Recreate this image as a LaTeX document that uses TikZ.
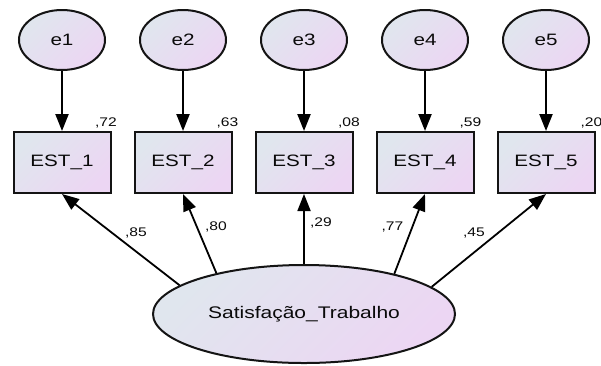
\documentclass[tikz,border=0pt]{standalone}
\usepackage{fontspec}
\setmainfont{Liberation Sans}
\newfontfamily\labfont[FakeStretch=1.25]{Liberation Sans}
\usetikzlibrary{arrows.meta,shapes.geometric}
\definecolor{fillA}{RGB}{224,230,238}
\definecolor{fillB}{RGB}{236,214,243}
\definecolor{edgec}{RGB}{20,20,20}
\definecolor{textc}{RGB}{10,10,10}
\tikzset{
  obs/.style={rectangle, draw=edgec, line width=2pt, minimum width=97pt, minimum height=61pt, inner sep=0pt,
    top color=fillA, bottom color=fillB, shading angle=45, font=\labfont\fontsize{16.5}{18}\selectfont, text=textc},
  err/.style={ellipse, draw=edgec, line width=2pt, minimum width=86pt, minimum height=60pt, inner sep=0pt,
    top color=fillA, bottom color=fillB, shading angle=45, font=\labfont\fontsize{16.5}{18}\selectfont, text=textc},
  lat/.style={ellipse, draw=edgec, line width=2pt, minimum width=302pt, minimum height=98pt, inner sep=0pt,
    top color=fillA, bottom color=fillB, shading angle=45, font=\labfont\fontsize{16.8}{18}\selectfont, text=textc},
  coef/.style={inner sep=0pt, font=\labfont\fontsize{12.5}{14}\selectfont, text=textc},
  errarr/.style={line width=2.2pt, -{Triangle[length=17pt,width=13pt]}},
  loadarr/.style={line width=1.8pt, -{Triangle[length=17pt,width=13pt]}}
}
\begin{document}
\begin{tikzpicture}[x=1pt,y=-1pt]
\useasboundingbox (0,0) rectangle (601,365);
\foreach \i/\x in {1/62,2/183,3/304,4/425,5/546}{
  \node[err] (e\i) at (\x,40) {e\i};
  \node[obs] (b\i) at (\x,162.5) {EST\_\i};
}
\node[lat] (F) at (304,314) {Satisfação\_Trabalho};
\foreach \i in {1,...,5}{
  \draw[errarr] (e\i.south) -- (b\i.north);
}
\draw[loadarr] (F.167.9) -- (b1.south);
\draw[loadarr] (F.155.6) -- (b2.south);
\draw[loadarr] (F.90) -- (b3.south);
\draw[loadarr] (F.24.4) -- (b4.south);
\draw[loadarr] (F.12.1) -- (b5.south);
\node[coef] (v1) at (106,122.5) {,72};
\node[coef] (v2) at (227.5,122.5) {,63};
\node[coef] (v3) at (349,122.5) {,08};
\node[coef] (v4) at (470.5,122.5) {,59};
\node[coef] (v5) at (591.5,122.5) {,20};
\node[coef] (l1) at (136,233) {,85};
\node[coef] (l2) at (216,227) {,80};
\node[coef] (l3) at (321,223) {,29};
\node[coef] (l4) at (392.5,227) {,77};
\node[coef] (l5) at (474,233) {,45};
\end{tikzpicture}
\end{document}
